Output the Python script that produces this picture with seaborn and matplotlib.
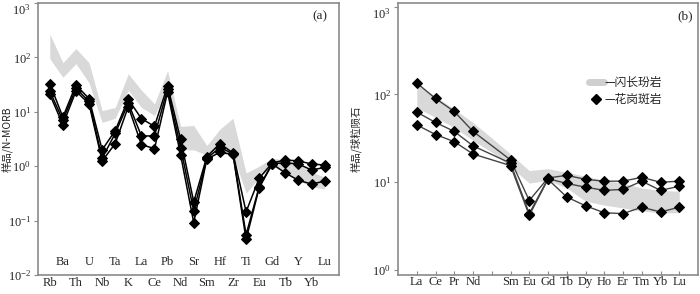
import numpy as np
import pandas as pd
import matplotlib
matplotlib.use('Agg')
import matplotlib.pyplot as plt
import seaborn as sns
from matplotlib.lines import Line2D

# (a) N-MORB normalised spider diagram
spider_elements = ['Rb', 'Ba', 'Th', 'U', 'Nb', 'Ta', 'K', 'La', 'Ce', 'Pb', 'Nd',
                   'Sr', 'Sm', 'Hf', 'Zr', 'Ti', 'Eu', 'Gd', 'Tb', 'Y', 'Yb', 'Lu']
spider_s1 = [33, 8.0, 31, 17.5, 2.0, 4.5, 17, 7.5, 5.4, 30, 3.1,
             0.22, 1.5, 2.6, 1.75, 0.145, 0.60, 1.15, 1.30, 1.25, 1.10, 1.05]
spider_s2 = [24, 7.0, 27, 15.5, 1.4, 4.0, 14.5, 3.6, 3.6, 26, 2.2,
             0.15, 1.4, 2.2, 1.70, 0.055, 0.42, 1.12, 1.15, 1.10, 0.85, 0.95]
spider_s3 = [21, 5.8, 24, 14.0, 1.25, 2.6, 12.5, 2.5, 2.1, 23, 1.6,
             0.092, 1.35, 1.8, 1.65, 0.045, 0.40, 1.10, 0.75, 0.55, 0.47, 0.53]
spider_band_hi = [270, 80, 145, 80, 10.5, 12, 50, 25, 14, 57, 5.4,
                  5.6, 2.4, 4.8, 7.6, 0.75, 1.0, 1.4, 1.3, 1.13, 0.78, 0.63]
spider_band_lo = [95, 43, 77, 34, 6.4, 7.6, 25, 12, 8.6, 25, 2.0,
                  2.0, 1.6, 1.7, 1.6, 0.32, 0.62, 1.0, 0.78, 0.55, 0.42, 0.38]

# (b) chondrite normalised REE pattern
ree_elements = ['La', 'Ce', 'Pr', 'Nd', 'Pm', 'Sm', 'Eu', 'Gd', 'Tb', 'Dy', 'Ho',
                'Er', 'Tm', 'Yb', 'Lu']
ree_s1 = [135, 90, 64, 38, np.nan, 18, 6.2, 11.2, 12.0, 10.8, 10.3, 10.3, 11.4, 10.0, 10.3]
ree_s2 = [63, 48, 38, 26, np.nan, 16.5, 4.4, 11.0, 9.7, 8.8, 8.1, 8.3, 10.3, 8.1, 9.0]
ree_s3 = [45, 35, 29, 21, np.nan, 15.5, 4.2, 10.8, 6.8, 5.4, 4.5, 4.4, 5.2, 4.6, 5.2]
ree_band_hi = [130, 95, 68, 48, 32, 21, 13.6, 14.3, 13, 11.7, 10.5, 9.8, 8.6, 8.1, 7.9]
ree_band_lo = [70, 55, 42, 30, 22, 15, 9.8, 10.5, 8.6, 6.1, 5.5, 5.1, 4.7, 4.5, 4.5]

sns.set_style('ticks')
plt.rcParams['font.family'] = ['Liberation Serif', 'Noto Sans CJK SC']
plt.rcParams['mathtext.fontset'] = 'stix'
cjk = ['Noto Sans CJK SC', 'DejaVu Sans']
spine_col = '#8a8a8a'
band_col = '#d9d9d9'

fig = plt.figure(figsize=(7, 2.94), dpi=100)
ax1 = fig.add_axes([38 / 700, 19 / 294, 301 / 700, 272 / 294])
ax2 = fig.add_axes([398 / 700, 19 / 294, 300 / 700, 272 / 294])

for ax in (ax1, ax2):
    ax.set_yscale('log')
    for s in ax.spines.values():
        s.set_color(spine_col)
        s.set_linewidth(1.2)
    ax.tick_params(axis='y', direction='out', length=3, color=spine_col,
                   labelsize=9, pad=2)

# ---- panel (a)
xa = np.arange(len(spider_elements))
ax1.fill_between(xa, spider_band_lo, spider_band_hi, color=band_col, lw=0)
for vals in (spider_s1, spider_s2, spider_s3):
    sns.lineplot(x=xa, y=vals, ax=ax1, color='black', lw=1.1, marker='D',
                 markersize=5, markeredgecolor='black', sort=False)
ax1.set_xlim(-0.9, 22.1)
ax1.set_ylim(1e-2, 1e3)
ax1.set_yticks([1e-2, 1e-1, 1e0, 1e1, 1e2, 1e3])
ax1.yaxis.set_minor_locator(matplotlib.ticker.NullLocator())
ax1.set_xticks(xa[::2], spider_elements[::2])
ax1.set_xticks(xa[1::2], spider_elements[1::2], minor=True)
ax1.tick_params(axis='x', which='major', length=0, labelsize=9, pad=1.5)
ax1.tick_params(axis='x', which='minor', length=0, labelsize=9, pad=-14)
ax1.set_xlabel('')
ax1.set_ylabel('样品/N-MORB', family=cjk, fontsize=7.5)
ax1.yaxis.set_label_coords(-0.083, 0.5)
ax1.text(0.96, 0.975, '(a)', transform=ax1.transAxes, ha='right', va='top',
         fontsize=9.5)

# ---- panel (b)
xb = np.arange(len(ree_elements))
ax2.fill_between(xb, ree_band_lo, ree_band_hi, color=band_col, lw=0)
for vals in (ree_s1, ree_s2, ree_s3):
    v = pd.Series(vals, index=xb).dropna()
    sns.lineplot(x=v.index.to_numpy(), y=v.to_numpy(), ax=ax2, color='#444444',
                 lw=1.0, marker='D', markersize=5, markerfacecolor='black',
                 markeredgecolor='black', sort=False)
ax2.set_xlim(-1, 15)
ax2.set_ylim(0.88, 1.1e3)
ax2.set_yticks([1e0, 1e1, 1e2, 1e3])
ax2.yaxis.set_minor_locator(matplotlib.ticker.NullLocator())
lab_b = [e if e != 'Pm' else '' for e in ree_elements]
ax2.set_xticks(xb, lab_b)
ax2.tick_params(axis='x', direction='in', length=3, color=spine_col,
                labelsize=9, pad=1)
ax2.set_xlabel('')
ax2.set_ylabel('样品/球粒陨石', family=cjk, fontsize=7.5)
ax2.yaxis.set_label_coords(-0.12, 0.5)
ax2.text(0.985, 0.975, '(b)', transform=ax2.transAxes, ha='right', va='top',
         fontsize=9.5)

# top tick label pushed inside the figure, as in the reference
for ax in (ax1, ax2):
    fig.canvas.draw()
    ax.get_yticklabels()[-1].set_verticalalignment('top')

handles = [Line2D([], [], color='#cfcfcf', lw=5, solid_capstyle='round'),
           Line2D([], [], color='black', ls='none', marker='D', markersize=5)]
leg = ax2.legend(handles, ['—闪长玢岩', '—花岗斑岩'], loc='upper left',
                 bbox_to_anchor=(0.6, 0.77), frameon=False, handlelength=1.3,
                 handletextpad=0.0, labelspacing=0.3,
                 prop={'family': cjk, 'size': 8.5})

fig.savefig('out.png', dpi=100)
